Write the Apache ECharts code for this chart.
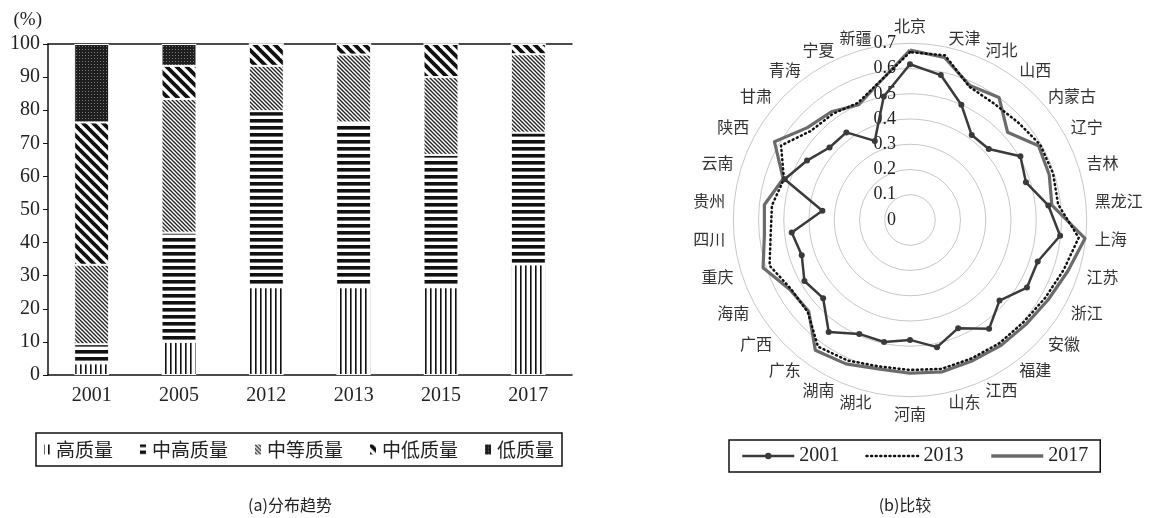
<!DOCTYPE html>
<html><head><meta charset="utf-8">
<script src="https://cdn.jsdelivr.net/npm/echarts@6/dist/echarts.min.js"></script>
<style>html,body{margin:0;padding:0;background:#fff}#c{width:1155px;height:518px}</style>
</head><body><div id="c"></div>
<script>
// ---------- data: (a) distribution ----------
const years = ['2001', '2005', '2012', '2013', '2015', '2017'];
const yTicks = [0, 10, 20, 30, 40, 50, 60, 70, 80, 90, 100];
const barNames = ['高质量', '中高质量', '中等质量', '中低质量', '低质量'];
const high    = [3.5, 10, 26.5, 26.5, 26.5, 33.4];
const midHigh = [5.8, 33, 53.2, 49.8, 40, 39.8];
const mid     = [24, 40.4, 13.7, 20.5, 23.5, 23.7];
const midLow  = [43, 10, 6.6, 3.2, 10, 3.1];
const low     = [23.7, 6.6, 0, 0, 0, 0];

// ---------- data: (b) comparison ----------
const provinces = ['北京','天津','河北','山西','内蒙古','辽宁','吉林','黑龙江','上海','江苏','浙江','安徽','福建','江西','山东','河南','湖北','湖南','广东','广西','海南','重庆','四川','贵州','云南','陕西','甘肃','青海','宁夏','新疆'];
const radarTicks = [0, 0.1, 0.2, 0.3, 0.4, 0.5, 0.6, 0.7];
const lineYears = ['2001', '2013', '2017'];
const v2001 = [0.617,0.587,0.50,0.416,0.42,0.505,0.483,0.551,0.598,0.532,0.535,0.477,0.533,0.469,0.515,0.475,0.494,0.494,0.548,0.463,0.483,0.451,0.471,0.349,0.522,0.471,0.429,0.429,0.343,0.50];
const v2013 = [0.665,0.667,0.578,0.569,0.577,0.596,0.596,0.59,0.672,0.64,0.618,0.605,0.603,0.60,0.603,0.594,0.593,0.609,0.62,0.545,0.545,0.585,0.555,0.55,0.525,0.59,0.528,0.52,0.508,0.563];
const v2017 = [0.673,0.658,0.583,0.60,0.52,0.588,0.58,0.565,0.697,0.657,0.632,0.618,0.614,0.61,0.615,0.607,0.603,0.624,0.638,0.54,0.55,0.612,0.58,0.58,0.528,0.62,0.547,0.53,0.50,0.562];

// ---------- patterns ----------
function makePattern(kind) {
  const c = document.createElement('canvas');
  const ctx = c.getContext('2d');
  if (kind === 'v') {
    c.width = 5; c.height = 5;
    ctx.fillStyle = '#fff'; ctx.fillRect(0, 0, 5, 5);
    ctx.fillStyle = '#111'; ctx.fillRect(0, 0, 1.6, 5);
  } else if (kind === 'h') {
    c.width = 7; c.height = 7;
    ctx.fillStyle = '#fff'; ctx.fillRect(0, 0, 7, 7);
    ctx.fillStyle = '#111'; ctx.fillRect(0, 0, 7, 3.6);
  } else if (kind === 'd') {
    c.width = 4; c.height = 4;
    ctx.fillStyle = '#fff'; ctx.fillRect(0, 0, 4, 4);
    ctx.strokeStyle = '#222'; ctx.lineWidth = 1.35;
    for (let k = -1; k <= 1; k++) { ctx.beginPath(); ctx.moveTo(-2, -2 + k * 4); ctx.lineTo(6, 6 + k * 4); ctx.stroke(); }
  } else if (kind === 'D') {
    c.width = 10; c.height = 10;
    ctx.fillStyle = '#fff'; ctx.fillRect(0, 0, 10, 10);
    ctx.strokeStyle = '#111'; ctx.lineWidth = 3.8;
    for (let k = -1; k <= 1; k++) { ctx.beginPath(); ctx.moveTo(-3, -3 + k * 10); ctx.lineTo(13, 13 + k * 10); ctx.stroke(); }
  } else {
    c.width = 3; c.height = 3;
    ctx.fillStyle = '#1e1e1e'; ctx.fillRect(0, 0, 3, 3);
    ctx.fillStyle = '#7a7a7a'; ctx.fillRect(1, 1, 1, 1);
  }
  return { image: c, repeat: 'repeat' };
}
const patternKinds = ['v', 'h', 'd', 'D', 's'];
const barData = [high, midHigh, mid, midLow, low];

const serif = '"Liberation Serif", "Noto Sans CJK SC", serif';
const cjk = '"Noto Sans CJK SC", sans-serif';

// radar indicators are laid out counter-clockwise in ECharts; reorder to get clockwise
const order = provinces.map((_, i) => (i === 0 ? 0 : provinces.length - i));
const reorder = arr => order.map(k => arr[k]);
const rMax = radarTicks[radarTicks.length - 1];
const indicator = order.map((k, j) => {
  const o = { name: provinces[k], min: 0, max: rMax };
  if (j === 0) o.axisLabel = { show: true };
  return o;
});

const lineStyles = {
  '2001': { color: '#3a3a3a', width: 2.5 },
  '2013': { color: '#111', width: 2.5, type: [1, 3.6], cap: 'round' },
  '2017': { color: '#6b6b6b', width: 3.2 }
};
const lineValues = { '2001': v2001, '2013': v2013, '2017': v2017 };

const chart = echarts.init(document.getElementById('c'));
const option = {
  animation: false,
  backgroundColor: '#fff',
  grid: { left: 48, top: 44, width: 524, height: 331, containLabel: false },
  xAxis: [
    { type: 'category', data: years, position: 'bottom',
      axisLine: { lineStyle: { color: '#111', width: 1.5 } }, axisTick: { show: false },
      axisLabel: { color: '#222', fontSize: 20, fontFamily: serif, margin: 11 } },
    { type: 'category', data: years, position: 'top',
      axisLine: { lineStyle: { color: '#111', width: 1.5 } }, axisTick: { show: false }, axisLabel: { show: false } }
  ],
  yAxis: {
    type: 'value', min: yTicks[0], max: yTicks[yTicks.length - 1], interval: 10,
    name: '(%)', nameLocation: 'end', nameGap: 14,
    nameTextStyle: { color: '#222', fontSize: 19, fontFamily: serif, align: 'right', padding: [0, 6, 0, 0] },
    axisLine: { show: true, lineStyle: { color: '#111', width: 1.5 } },
    axisTick: { show: true, length: 5, lineStyle: { color: '#111' } },
    splitLine: { show: false },
    axisLabel: { color: '#222', fontSize: 20, fontFamily: serif, margin: 8 }
  },
  legend: [
    { data: barNames, left: 36, top: 433, orient: 'horizontal',
      borderColor: '#111', borderWidth: 1.5, padding: [7, 8, 7, 6],
      itemWidth: 8, itemHeight: 12, itemGap: 25, icon: 'rect',
      textStyle: { color: '#222', fontSize: 19, fontFamily: cjk } },
    { data: [
        { name: '2001', lineStyle: { width: 2.5 } },
        { name: '2013', itemStyle: { opacity: 0 }, lineStyle: { width: 2.5 } },
        { name: '2017', itemStyle: { opacity: 0 }, lineStyle: { width: 3.5 } }
      ],
      left: 729, top: 440, orient: 'horizontal',
      borderColor: '#111', borderWidth: 1.5, padding: [6, 12, 6, 12],
      itemWidth: 52, itemHeight: 8, itemGap: 26,
      textStyle: { color: '#222', fontSize: 20, fontFamily: serif } }
  ],
  radar: {
    center: [910, 220], radius: 176.7, startAngle: 90, shape: 'circle', splitNumber: 7,
    indicator: indicator,
    axisLine: { show: false }, axisTick: { show: false },
    axisLabel: { show: false, color: '#222', fontSize: 18, fontFamily: serif, margin: 14,
      formatter: v => String(Math.round(v * 10) / 10) },
    splitLine: { lineStyle: { color: '#c8c8c8', width: 1 } },
    splitArea: { show: false },
    axisName: { color: '#333', fontSize: 16, fontFamily: cjk },
    axisNameGap: 9
  },
  graphic: [
    { type: 'text', x: 290, y: 505, style: { text: '(a)分布趋势', fill: '#222', fontSize: 16, fontFamily: cjk, align: 'center', verticalAlign: 'middle' } },
    { type: 'text', x: 905, y: 505, style: { text: '(b)比较', fill: '#222', fontSize: 16, fontFamily: cjk, align: 'center', verticalAlign: 'middle' } }
  ],
  series: [
    ...barNames.map((n, i) => ({
      type: 'bar', name: n, stack: 'q', barWidth: 35, xAxisIndex: 0, yAxisIndex: 0,
      data: barData[i],
      itemStyle: { color: makePattern(patternKinds[i]), borderColor: '#fff', borderWidth: 1 },
      emphasis: { disabled: true }
    })),
    // legend carriers for the radar lines (no data drawn)
    ...lineYears.map(y => ({
      type: 'line', name: y, data: [], xAxisIndex: 0, yAxisIndex: 0,
      symbol: y === '2001' ? 'circle' : 'none', symbolSize: 7,
      lineStyle: lineStyles[y], itemStyle: { color: lineStyles[y].color }
    })),
    {
      type: 'radar', radarIndex: 0, emphasis: { disabled: true },
      data: ['2017', '2013', '2001'].map(y => ({
        name: y, value: reorder(lineValues[y]),
        symbol: y === '2001' ? 'circle' : 'none', symbolSize: 6,
        lineStyle: lineStyles[y], itemStyle: { color: lineStyles[y].color }
      }))
    }
  ]
};
chart.setOption(option);
</script>
</body></html>
